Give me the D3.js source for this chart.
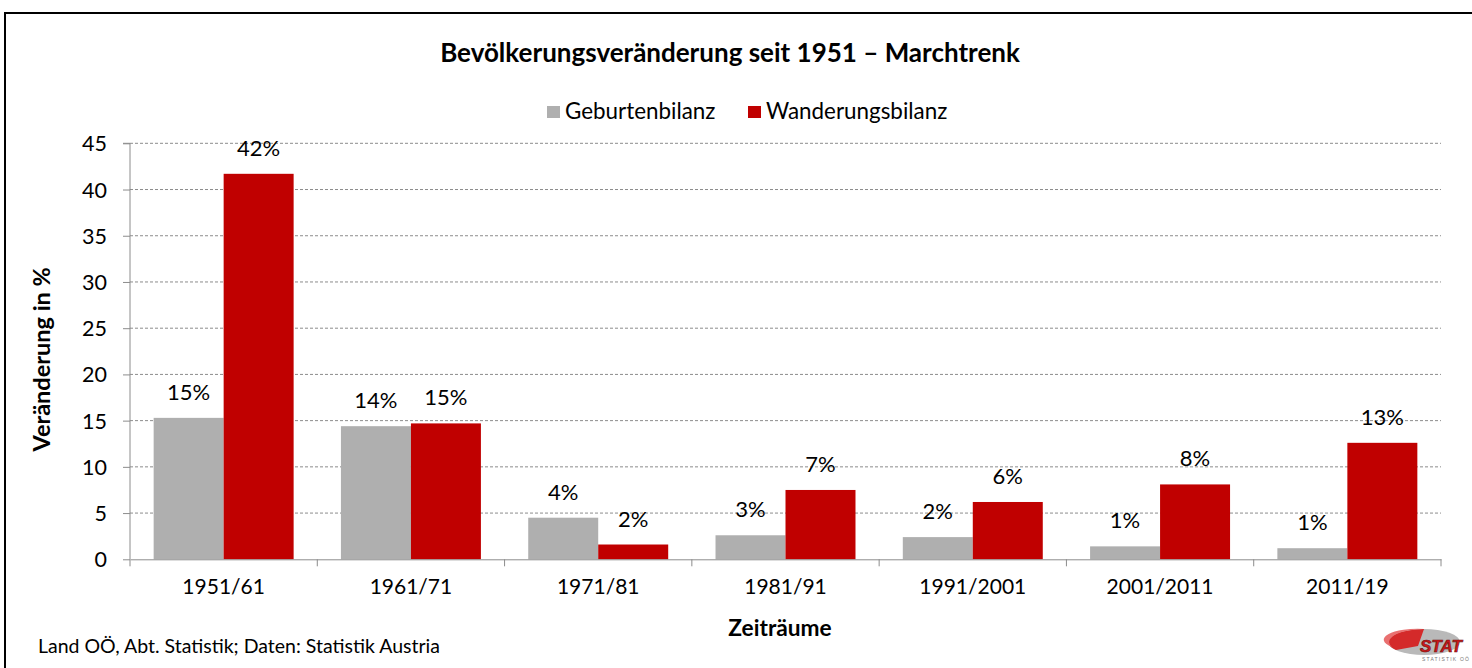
<!DOCTYPE html>
<html><head><meta charset="utf-8">
<script src="https://cdn.jsdelivr.net/npm/d3@7"></script>
<style>
html,body{margin:0;padding:0;background:#fff;}
svg{display:block;font-family:Lato, "Open Sans", sans-serif;}
</style></head>
<body>
<svg id="chart" width="1472" height="668"></svg>
<script>
const categories = ["1951/61","1961/71","1971/81","1981/91","1991/2001","2001/2011","2011/19"];
const geburten = [15.3, 14.4, 4.5, 2.6, 2.4, 1.4, 1.2];
const wanderung = [41.7, 14.7, 1.6, 7.5, 6.2, 8.1, 12.6];
const geburtenLabels = ["15%","14%","4%","3%","2%","1%","1%"];
const wanderungLabels = ["42%","15%","2%","7%","6%","8%","13%"];
const seriesNames = ["Geburtenbilanz","Wanderungsbilanz"];
const yTicks = [0,5,10,15,20,25,30,35,40,45];
const titleText = "Bevölkerungsveränderung seit 1951 – Marchtrenk";
const yTitle = "Veränderung in %";
const xTitle = "Zeiträume";
const footer = "Land OÖ, Abt. Statistik; Daten: Statistik Austria";

const colors = ["#AFAFAF", "#C00000"];
const svg = d3.select("#chart");

// outer frame
svg.append("path").attr("d","M5,680 L5,13 L1480,13").attr("fill","none").attr("stroke","#000").attr("stroke-width",2);

const m = {left:130, right:1441, top:143.3, bottom:559.3};
const x = d3.scaleBand().domain(categories).range([m.left, m.right]).paddingInner(0).paddingOuter(0);
const y = d3.scaleLinear().domain([0,45]).range([m.bottom, m.top]);
const inner = d3.scaleBand().domain([0,1]).range([0, x.bandwidth()]).paddingInner(0).paddingOuter(0.338);

// gridlines
svg.append("g").selectAll("line").data(yTicks.filter(d=>d>0)).join("line")
  .attr("x1", m.left).attr("x2", m.right)
  .attr("y1", d=>y(d)).attr("y2", d=>y(d))
  .attr("stroke","#8c8c8c").attr("stroke-width",1).attr("stroke-dasharray","3,2");

// bars
const series = [geburten, wanderung];
const labels = [geburtenLabels, wanderungLabels];
series.forEach((vals, si) => {
  const g = svg.append("g");
  g.selectAll("rect").data(vals).join("rect")
    .attr("x", (d,i)=>x(categories[i]) + inner(si))
    .attr("y", d=>y(d))
    .attr("width", inner.bandwidth())
    .attr("height", d=>y(0)-y(d))
    .attr("fill", colors[si]);
  g.selectAll("text").data(vals).join("text")
    .attr("x", (d,i)=>x(categories[i]) + inner(si) + inner.bandwidth()/2)
    .attr("y", d=>y(d) - 18)
    .attr("text-anchor","middle")
    .attr("font-size", 22)
    .attr("fill","#000")
    .text((d,i)=>labels[si][i]);
});

// y axis
const yAxis = d3.axisLeft(y).tickValues(yTicks).tickSize(7).tickPadding(16).tickFormat(d3.format("d"));
const gy = svg.append("g").attr("transform",`translate(${m.left},0)`).call(yAxis);
gy.select(".domain").attr("stroke","#8c8c8c").attr("d", `M-7,${m.top}H0V${m.bottom}`);
gy.selectAll(".tick line").attr("stroke","#8c8c8c");
gy.selectAll(".tick text").attr("font-size",21.5).attr("font-family","Lato").attr("fill","#000").attr("dy","0.35em");

// x axis
const xAxis = d3.axisBottom(x).tickSize(0).tickPadding(20);
const gx = svg.append("g").attr("transform",`translate(0,${m.bottom})`).call(xAxis);
gx.select(".domain").attr("stroke","#8c8c8c");
gx.selectAll(".tick text").attr("font-size",21).attr("font-family","Lato").attr("fill","#000");
// category boundary ticks
const bounds = categories.map(c=>x(c)).concat([m.right]);
svg.append("g").selectAll("line").data(bounds).join("line")
  .attr("x1", d=>d).attr("x2", d=>d).attr("y1", m.bottom).attr("y2", m.bottom+7)
  .attr("stroke","#8c8c8c");

// title
svg.append("text").attr("x", 730).attr("y", 62).attr("text-anchor","middle")
  .attr("font-size",26).attr("font-weight","bold").text(titleText);

// legend
const legend = svg.append("g");
const legX = [547, 748];
seriesNames.forEach((n,i)=>{
  legend.append("rect").attr("x", legX[i]).attr("y", 106).attr("width",13).attr("height",12).attr("fill",colors[i]);
  legend.append("text").attr("x", legX[i]+18).attr("y", 119).attr("font-size",22.4).text(n);
});

// axis titles
svg.append("text").attr("transform",`translate(50,${(m.top+m.bottom)/2 + 8}) rotate(-90)`)
  .attr("text-anchor","middle").attr("font-size",23.5).attr("font-weight","bold").text(yTitle);
svg.append("text").attr("x", 780).attr("y", 636).attr("text-anchor","middle")
  .attr("font-size",22.7).attr("font-weight","bold").text(xTitle);

// footer
svg.append("text").attr("x", 38).attr("y", 653).attr("font-size",19.5).text(footer);

// logo
const logo = svg.append("g").attr("transform","translate(1388,626)");
logo.append("ellipse").attr("cx",36).attr("cy",16).attr("rx",36).attr("ry",13).attr("fill","#b9b9b9");
logo.append("path").attr("d","M36,3 A36,13 0 0 0 8,24 L30,20 Z").attr("fill","#d42a2a");
logo.append("path").attr("d","M36,3 A36,13 0 0 0 2,19 L4,21 A34,11 0 0 1 36,3 Z").attr("fill","#e97070");
logo.append("text").attr("x",32).attr("y",26).attr("font-size",17).attr("font-weight","900")
  .attr("font-family","Liberation Sans, Arial").attr("font-style","italic")
  .attr("fill","#d01818").attr("stroke","#6b1010").attr("stroke-width",0.6).text("STAT");
logo.append("text").attr("x",34).attr("y",35).attr("font-size",5).attr("letter-spacing",1.2)
  .attr("font-family","Liberation Sans, Arial").attr("fill","#777").text("STATISTIK OÖ");
</script>
</body></html>
